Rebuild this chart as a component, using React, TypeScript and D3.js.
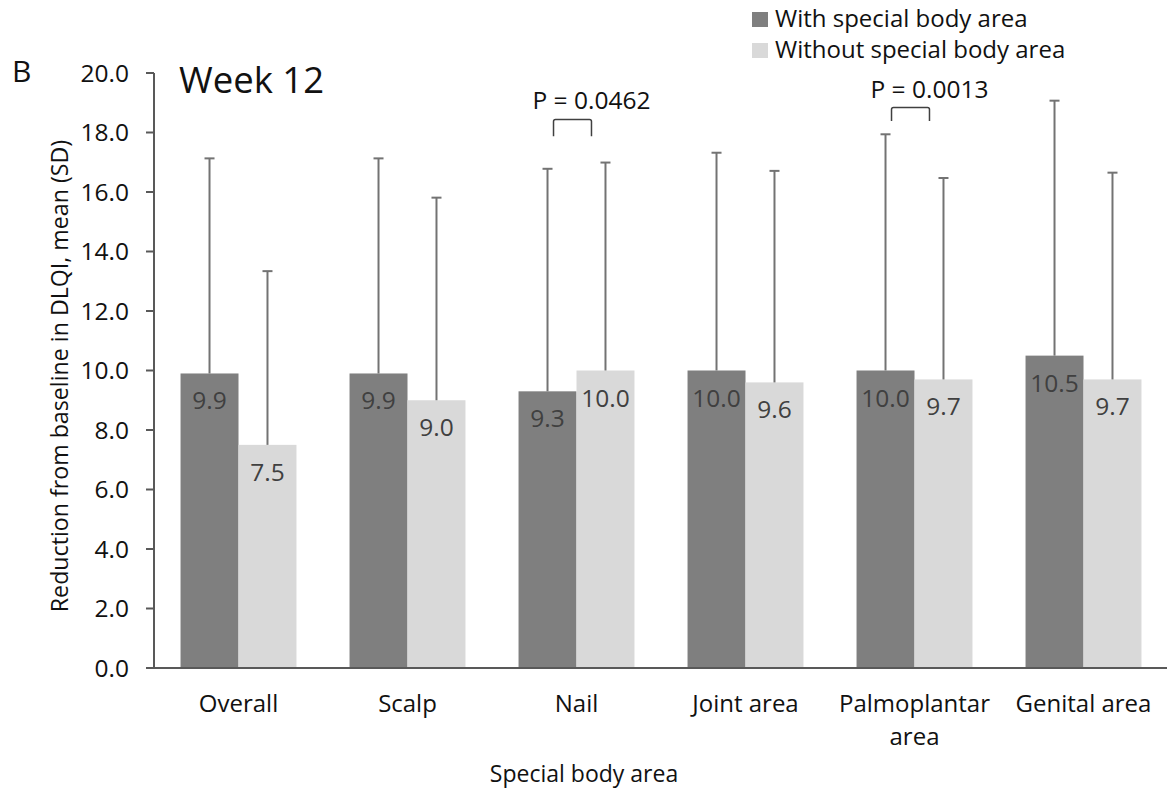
import React from "react";
import * as d3 from "d3";

// Mean reduction from baseline in DLQI at week 12, by special body area
const categories = ["Overall", "Scalp", "Nail", "Joint area", "Palmoplantar area", "Genital area"];
const categoryLines = [["Overall"], ["Scalp"], ["Nail"], ["Joint area"], ["Palmoplantar", "area"], ["Genital area"]];
const withMean = [9.9, 9.9, 9.3, 10.0, 10.0, 10.5];
const withSD = [7.23, 7.23, 7.48, 7.32, 7.94, 8.57];
const withoutMean = [7.5, 9.0, 10.0, 9.6, 9.7, 9.7];
const withoutSD = [5.84, 6.81, 6.99, 7.11, 6.77, 6.95];
const seriesNames = ["With special body area", "Without special body area"];
const yTicks = [0, 2, 4, 6, 8, 10, 12, 14, 16, 18, 20];

// Significance annotations: category, bracket top value, bracket leg bottom value, label
const pCategories = ["Nail", "Palmoplantar area"];
const pTop = [18.44, 18.84];
const pBottom = [17.87, 18.39];
const pLabels = ["P = 0.0462", "P = 0.0013"];

const W = 1167;
const H = 792;
const FONT = "'Open Sans', 'Noto Sans', sans-serif";
const DARK = "#7f7f7f";
const LIGHT = "#d9d9d9";
const AXIS = "#595959";
const ERR = "#737373";

export default function App() {
  const x = d3
    .scaleBand<string>()
    .domain(categories)
    .range([154, 1168])
    .paddingInner(0.314)
    .paddingOuter(0.157);
  const xs = d3
    .scaleBand<number>()
    .domain([0, 1])
    .range([0, x.bandwidth()]);
  const y = d3.scaleLinear().domain([0, 20]).range([668, 73]);

  const series = [
    { mean: withMean, sd: withSD, color: DARK },
    { mean: withoutMean, sd: withoutSD, color: LIGHT },
  ];

  const fmt = d3.format(".1f");

  return (
    <svg
      width={W}
      height={H}
      style={{ position: "absolute", left: 0, top: 0, background: "#fff" }}
      fontFamily={FONT}
    >
      {/* panel letter and title */}
      <text x={12} y={82} fontSize={30} fill="#111">B</text>
      <text x={179} y={93} fontSize={36.5} fill="#111">Week 12</text>

      {/* bars */}
      {series.map((s, si) =>
        categories.map((c, i) => {
          const x0 = (x(c) as number) + (xs(si) as number);
          const w = xs.bandwidth();
          return (
            <rect
              key={`b${si}-${i}`}
              x={x0}
              y={y(s.mean[i])}
              width={w}
              height={y(0) - y(s.mean[i])}
              fill={s.color}
            />
          );
        })
      )}

      {/* error bars (upper SD only) */}
      {series.map((s, si) =>
        categories.map((c, i) => {
          const cx = (x(c) as number) + (xs(si) as number) + xs.bandwidth() / 2;
          const top = y(s.mean[i] + s.sd[i]);
          return (
            <g key={`e${si}-${i}`} stroke={ERR} strokeWidth={2}>
              <line x1={cx} x2={cx} y1={y(s.mean[i])} y2={top} />
              <line x1={cx - 5} x2={cx + 5} y1={top} y2={top} />
            </g>
          );
        })
      )}

      {/* value labels inside the bar ends */}
      {series.map((s, si) =>
        categories.map((c, i) => {
          const cx = (x(c) as number) + (xs(si) as number) + xs.bandwidth() / 2;
          return (
            <text
              key={`l${si}-${i}`}
              x={cx}
              y={y(s.mean[i]) + 36}
              textAnchor="middle"
              fontSize={24.5}
              fill="#404040"
            >
              {fmt(s.mean[i])}
            </text>
          );
        })
      )}

      {/* y axis */}
      <line x1={154} x2={154} y1={y(20)} y2={y(0)} stroke={AXIS} strokeWidth={2} />
      {yTicks.map((t) => (
        <g key={`t${t}`}>
          <line x1={146} x2={154} y1={y(t)} y2={y(t)} stroke={AXIS} strokeWidth={2} />
          <text
            x={129}
            y={y(t)}
            dy="0.35em"
            textAnchor="end"
            fontSize={24.5}
            fill="#111"
          >
            {fmt(t)}
          </text>
        </g>
      ))}
      <text
        transform={`translate(68, 376) rotate(-90)`}
        textAnchor="middle"
        fontSize={23.2}
        fill="#111"
      >
        Reduction from baseline in DLQI, mean (SD)
      </text>

      {/* x axis */}
      <line x1={154} x2={1167} y1={y(0)} y2={y(0)} stroke={AXIS} strokeWidth={2} />
      {categories.map((c, i) => {
        const cx = (x(c) as number) + x.bandwidth() / 2;
        return (
          <text key={`c${i}`} x={cx} y={712} textAnchor="middle" fontSize={24} fill="#111">
            {categoryLines[i].map((ln, k) => (
              <tspan key={k} x={cx} dy={k === 0 ? 0 : 33}>
                {ln}
              </tspan>
            ))}
          </text>
        );
      })}
      <text x={584} y={782} textAnchor="middle" fontSize={23} fill="#111">
        Special body area
      </text>

      {/* significance brackets */}
      {pCategories.map((c, i) => {
        const b = x(c) as number;
        const left = b + (xs(0) as number) + xs.bandwidth() / 2 + 6;
        const right = b + (xs(1) as number) + xs.bandwidth() / 2 - 14;
        const top = y(pTop[i]);
        const bot = y(pBottom[i]);
        return (
          <g key={`p${i}`}>
            <path
              d={`M${left},${bot}V${top + 2}Q${left},${top} ${left + 2},${top}H${right - 2}Q${right},${top} ${right},${top + 2}V${bot}`}
              fill="none"
              stroke="#404040"
              strokeWidth={1.5}
            />
            <text x={left - 21} y={top - 10} fontSize={24.5} fill="#111">
              {pLabels[i]}
            </text>
          </g>
        );
      })}

      {/* legend */}
      {seriesNames.map((n, i) => (
        <g key={`lg${i}`} transform={`translate(752, ${12 + i * 31})`}>
          <rect width={16} height={15} fill={i === 0 ? DARK : LIGHT} />
          <text x={23} y={15} fontSize={24} fill="#111">
            {n}
          </text>
        </g>
      ))}
    </svg>
  );
}
